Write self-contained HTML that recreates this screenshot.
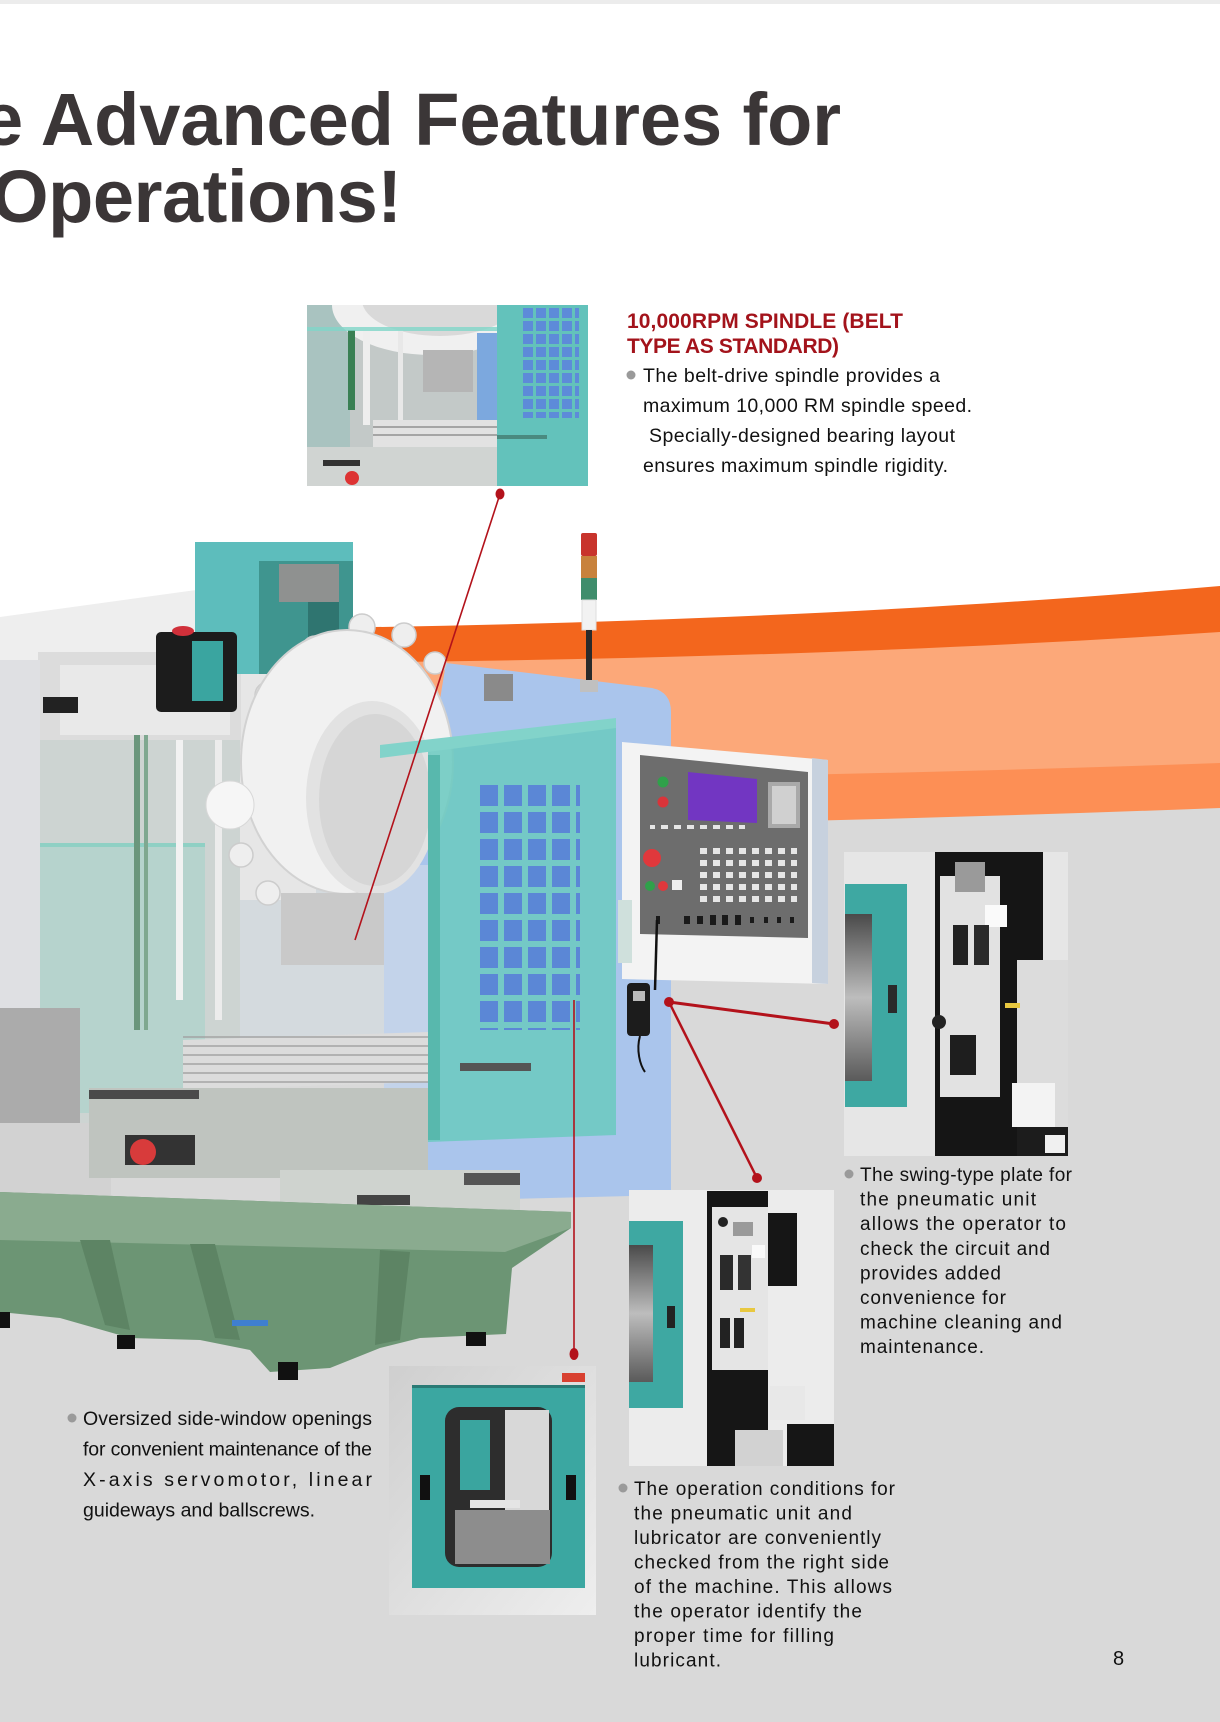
<!DOCTYPE html>
<html><head><meta charset="utf-8"><style>
html,body{margin:0;padding:0;background:#fff;}
svg{display:block;}
text{font-family:"Liberation Sans",Arial,sans-serif;}
</style></head><body>
<svg width="1220" height="1722" viewBox="0 0 1220 1722" xmlns="http://www.w3.org/2000/svg">
<defs>
 <pattern id="dgrid" x="480" y="785" width="24" height="27" patternUnits="userSpaceOnUse"><rect width="18" height="21" fill="#5b87d6"/></pattern>
 <pattern id="sgrid" x="523" y="308" width="13" height="13" patternUnits="userSpaceOnUse"><rect width="10" height="10" fill="#5d8bd9"/></pattern>
 <pattern id="keys" x="700" y="848" width="13" height="12" patternUnits="userSpaceOnUse"><rect width="7" height="6" fill="#e6e6e6"/></pattern>
 <pattern id="tslot" x="183" y="1036" width="10" height="9" patternUnits="userSpaceOnUse"><rect width="10" height="2" fill="#a0a0a0"/></pattern>
 <linearGradient id="win" x1="0" y1="0" x2="0" y2="1"><stop offset="0" stop-color="#4a4a4a"/><stop offset="0.5" stop-color="#bdbdbd"/><stop offset="1" stop-color="#5a5a5a"/></linearGradient>
 <linearGradient id="pc" x1="0" y1="0" x2="1" y2="1"><stop offset="0" stop-color="#cfcfcf"/><stop offset="1" stop-color="#eeeeee"/></linearGradient>
 <clipPath id="c1"><rect x="307" y="305" width="281" height="181"/></clipPath>
 <clipPath id="cA"><rect x="844" y="852" width="224" height="304"/></clipPath>
 <clipPath id="cB"><rect x="629" y="1190" width="205" height="276"/></clipPath>
 <clipPath id="cC"><rect x="389" y="1366" width="207" height="249"/></clipPath>
</defs>

<!-- background -->
<rect width="1220" height="1722" fill="#fff"/>
<rect width="1220" height="4" fill="#ececec"/>
<path d="M0,630 C400,630 800,622 1220,586 L1220,1722 L0,1722Z" fill="#f3661d"/>
<path d="M0,664 C400,664 800,660 1220,632 L1220,1722 L0,1722Z" fill="#fca879"/>
<path d="M0,785 C400,782 800,778 1220,763 L1220,1722 L0,1722Z" fill="#fd8f55"/>
<path d="M0,832 C400,830 800,824 1220,808 L1220,1722 L0,1722Z" fill="#d9d9d9"/>

<!-- title -->
<text x="-18" y="145" font-size="74" font-weight="bold" fill="#3b3637" textLength="859">e Advanced Features for</text>
<text x="-9" y="222" font-size="74" font-weight="bold" fill="#3b3637" textLength="411">Operations!</text>

<!-- ===== MACHINE ===== -->
<rect x="240" y="860" width="200" height="190" fill="#d4dade"/>
<path d="M446,663 L652,688 Q671,692 671,712 L671,1195 L470,1200 L384,1212 L384,865 L430,760 Z" fill="#aac5ec"/>
<rect x="384" y="865" width="44" height="258" fill="#c3d3ea"/>
<rect x="484" y="674" width="29" height="27" fill="#8a8a8a"/>

<!-- column -->
<polygon points="0,617 196,590 245,598 245,660 0,668" fill="#eeeeee"/>
<rect x="236" y="600" width="80" height="300" fill="#e6e6e6"/>
<rect x="38" y="652" width="203" height="98" fill="#dcdcdc"/>
<rect x="60" y="665" width="170" height="70" fill="#e9e9e9"/>
<rect x="0" y="660" width="40" height="465" fill="#dfe0e3"/>
<rect x="40" y="740" width="200" height="385" fill="#cdd4d2"/>
<rect x="40" y="843" width="165" height="270" fill="#9fd2c8" opacity="0.5"/>
<rect x="40" y="843" width="165" height="4" fill="#8fd0c4"/>
<rect x="134" y="735" width="6" height="295" fill="#6a967c"/>
<rect x="144" y="735" width="4" height="295" fill="#7fa890"/>
<rect x="176" y="740" width="7" height="260" fill="#f2f2f2"/>
<rect x="215" y="740" width="7" height="280" fill="#ececec"/>
<rect x="0" y="1008" width="80" height="115" fill="#ababab"/>
<rect x="0" y="1123" width="111" height="72" fill="#d2d2d2"/>
<rect x="43" y="697" width="35" height="16" fill="#222"/>

<!-- motor block -->
<rect x="195" y="542" width="158" height="132" fill="#5dbdbc"/>
<rect x="259" y="561" width="94" height="113" fill="#3f958f"/>
<rect x="279" y="564" width="60" height="38" fill="#8f9190"/>
<rect x="308" y="602" width="31" height="72" fill="#2f7570"/>
<rect x="156" y="632" width="81" height="80" rx="5" fill="#1c1c1c"/>
<rect x="192" y="641" width="31" height="60" fill="#3aa5a0"/>
<ellipse cx="183" cy="631" rx="11" ry="5" fill="#d0303a"/>

<!-- spindle head -->
<g fill="#eeeeee" stroke="#cccccc" stroke-width="1.5">
 <circle cx="362" cy="627" r="13"/><circle cx="404" cy="635" r="12"/><circle cx="315" cy="649" r="13"/>
 <circle cx="268" cy="695" r="13"/><circle cx="435" cy="663" r="11"/><circle cx="241" cy="855" r="12"/>
 <circle cx="268" cy="893" r="12"/>
</g>
<ellipse cx="347" cy="762" rx="106" ry="132" fill="#f1f1f1" stroke="#d2d2d2" stroke-width="2"/>
<ellipse cx="372" cy="798" rx="66" ry="97" fill="#e2e2e2"/>
<ellipse cx="375" cy="800" rx="56" ry="86" fill="#d6d6d6"/>
<ellipse cx="230" cy="805" rx="24" ry="24" fill="#f6f6f6" stroke="#d8d8d8"/>
<rect x="281" y="893" width="103" height="72" fill="#c9c9c9"/>

<!-- teal door -->
<polygon points="428,748 616,722 616,1135 428,1142" fill="#6cc9c0" opacity="0.88"/>
<polygon points="380,745 616,718 616,728 380,758" fill="#82d3ca"/>
<rect x="428" y="755" width="12" height="385" fill="#58b8ad"/>
<rect x="480" y="785" width="100" height="245" fill="url(#dgrid)"/>
<rect x="460" y="1063" width="71" height="8" fill="#555"/>

<!-- table / saddle -->
<polygon points="183,1040 428,1032 428,1082 183,1090" fill="#dcdcdc"/>
<rect x="183" y="1036" width="245" height="50" fill="url(#tslot)" opacity="0.7"/>
<rect x="89" y="1088" width="339" height="90" fill="#bfc4bf"/>
<rect x="89" y="1090" width="110" height="9" fill="#4a4a4a"/>
<rect x="125" y="1135" width="70" height="30" fill="#333"/>
<circle cx="143" cy="1152" r="13" fill="#d83b3b"/>
<rect x="280" y="1170" width="240" height="45" fill="#cfd3cf"/>
<rect x="357" y="1195" width="53" height="10" fill="#444"/>
<rect x="464" y="1173" width="56" height="12" fill="#555"/>

<!-- base -->
<polygon points="0,1192 571,1212 571,1228 512,1268 506,1334 420,1338 380,1348 330,1368 270,1372 250,1350 200,1340 130,1338 60,1318 0,1312" fill="#6c9574"/>
<polygon points="0,1192 571,1212 571,1228 505,1252 0,1240" fill="#8aab8f"/>
<polygon points="80,1240 110,1240 130,1330 105,1325" fill="#5d8464"/>
<polygon points="190,1244 215,1244 240,1340 215,1338" fill="#5d8464"/>
<polygon points="380,1250 410,1252 400,1340 375,1345" fill="#5d8464"/>
<rect x="232" y="1320" width="36" height="6" fill="#3f7fd0"/>
<rect x="278" y="1362" width="20" height="18" fill="#111"/>
<rect x="117" y="1335" width="18" height="14" fill="#111"/>
<rect x="466" y="1332" width="20" height="14" fill="#111"/>
<rect x="0" y="1312" width="10" height="16" fill="#111"/>

<!-- control panel -->
<polygon points="622,742 828,760 828,984 622,979" fill="#f3f3f3"/>
<polygon points="812,758 828,760 828,984 812,983" fill="#c7d1de"/>
<polygon points="640,755 808,772 808,938 640,934" fill="#6d6d6d"/>
<polygon points="688,772 757,779 757,823 688,820" fill="#7236c2"/>
<rect x="768" y="782" width="32" height="46" fill="#a9a9a9"/>
<rect x="772" y="786" width="24" height="38" fill="#d0d0d0"/>
<circle cx="663" cy="782" r="5.5" fill="#2fa14a"/>
<circle cx="663" cy="802" r="5.5" fill="#d9343a"/>
<circle cx="652" cy="858" r="9" fill="#e0383c"/>
<circle cx="650" cy="886" r="5" fill="#2fa14a"/>
<circle cx="663" cy="886" r="5" fill="#e0383c"/>
<rect x="672" y="880" width="10" height="10" fill="#eee"/>
<rect x="650" y="825" width="95" height="4" fill="url(#keys)"/>
<rect x="700" y="848" width="97" height="58" fill="url(#keys)"/>
<g fill="#1a1a1a">
 <rect x="656" y="916" width="4" height="8"/><rect x="684" y="916" width="6" height="8"/><rect x="697" y="916" width="6" height="8"/>
 <rect x="710" y="915" width="6" height="10"/><rect x="722" y="915" width="6" height="10"/><rect x="735" y="915" width="6" height="10"/>
 <rect x="750" y="917" width="4" height="6"/><rect x="764" y="917" width="4" height="6"/><rect x="777" y="917" width="4" height="6"/><rect x="790" y="917" width="4" height="6"/>
</g>
<rect x="618" y="900" width="14" height="63" fill="#cfe0dc"/>

<!-- pendant -->
<path d="M657,920 L655,990" stroke="#111" stroke-width="2.5"/>
<rect x="627" y="983" width="23" height="53" rx="4" fill="#1c1c1c"/>
<rect x="633" y="991" width="12" height="10" fill="#bbbbbb"/>
<path d="M640,1036 C636,1050 640,1065 645,1072" stroke="#111" stroke-width="2" fill="none"/>

<!-- signal tower -->
<rect x="581" y="533" width="16" height="23" rx="2" fill="#c8342c"/>
<rect x="581" y="556" width="16" height="22" fill="#c8823c"/>
<rect x="581" y="578" width="16" height="22" fill="#3f8d6c"/>
<rect x="582" y="600" width="14" height="30" fill="#f2f2f2" stroke="#ddd"/>
<rect x="586" y="630" width="6" height="52" fill="#2a2a2a"/>
<rect x="580" y="680" width="18" height="12" fill="#c0c0c0"/>

<!-- ===== spindle photo ===== -->
<g clip-path="url(#c1)">
 <rect x="307" y="305" width="281" height="181" fill="#c3c9c8"/>
 <rect x="307" y="305" width="43" height="181" fill="#a9c3c0"/>
 <ellipse cx="432" cy="305" rx="100" ry="50" fill="#f0f0f0"/>
 <ellipse cx="440" cy="300" rx="78" ry="36" fill="#d9d9d9"/>
 <rect x="348" y="330" width="7" height="80" fill="#3a8054"/>
 <rect x="363" y="330" width="7" height="95" fill="#eeeeee"/>
 <rect x="398" y="330" width="5" height="100" fill="#e8e8e8"/>
 <rect x="423" y="350" width="50" height="42" fill="#b5b5b5"/>
 <rect x="477" y="333" width="23" height="87" fill="#7ca8de"/>
 <rect x="307" y="327" width="200" height="4" fill="#7fd6c8" opacity="0.8"/>
 <rect x="497" y="305" width="91" height="181" fill="#63c2bb"/>
 <rect x="523" y="308" width="56" height="110" fill="url(#sgrid)"/>
 <rect x="373" y="420" width="124" height="27" fill="#e2e2e2"/>
 <rect x="373" y="426" width="124" height="2" fill="#a5a5a5"/>
 <rect x="373" y="434" width="124" height="2" fill="#a5a5a5"/>
 <rect x="307" y="447" width="190" height="39" fill="#d0d4d2"/>
 <rect x="323" y="460" width="37" height="6" fill="#333"/>
 <circle cx="352" cy="478" r="7" fill="#d33"/>
 <rect x="497" y="435" width="50" height="4" fill="#4a8a80"/>
</g>

<!-- ===== photo A ===== -->
<g clip-path="url(#cA)">
 <rect x="844" y="852" width="224" height="304" fill="#e6e6e6"/>
 <rect x="845" y="884" width="62" height="223" fill="#3ea8a2"/>
 <rect x="845" y="914" width="27" height="167" fill="url(#win)"/>
 <rect x="888" y="985" width="9" height="28" fill="#2a2a2a"/>
 <rect x="935" y="852" width="82" height="304" fill="#151515"/>
 <rect x="1000" y="852" width="43" height="108" fill="#151515"/>
 <rect x="1017" y="960" width="51" height="167" fill="#dcdcdc"/>
 <rect x="1017" y="1127" width="51" height="29" fill="#1c1c1c"/>
 <rect x="940" y="876" width="60" height="221" fill="#e2e2e2"/>
 <rect x="955" y="862" width="30" height="30" fill="#9a9a9a"/>
 <rect x="985" y="905" width="22" height="22" fill="#fafafa"/>
 <rect x="953" y="925" width="15" height="40" fill="#222"/>
 <rect x="974" y="925" width="15" height="40" fill="#2a2a2a"/>
 <rect x="1005" y="1003" width="15" height="5" fill="#e8c840"/>
 <circle cx="939" cy="1022" r="7" fill="#222"/>
 <rect x="950" y="1035" width="26" height="40" fill="#1e1e1e"/>
 <rect x="1012" y="1083" width="43" height="44" fill="#f3f3f3"/>
 <rect x="1045" y="1135" width="20" height="18" fill="#f0f0f0"/>
</g>

<!-- ===== photo B ===== -->
<g clip-path="url(#cB)">
 <rect x="629" y="1190" width="205" height="276" fill="#ececec"/>
 <rect x="628" y="1221" width="55" height="187" fill="#3ea8a2"/>
 <rect x="628" y="1245" width="25" height="137" fill="url(#win)"/>
 <rect x="667" y="1306" width="8" height="22" fill="#222"/>
 <rect x="707" y="1191" width="61" height="275" fill="#161616"/>
 <rect x="712" y="1207" width="56" height="163" fill="#e5e5e5"/>
 <rect x="768" y="1213" width="29" height="73" fill="#161616"/>
 <circle cx="723" cy="1222" r="5" fill="#222"/>
 <rect x="733" y="1222" width="20" height="14" fill="#9a9a9a"/>
 <rect x="720" y="1255" width="13" height="35" fill="#2a2a2a"/>
 <rect x="738" y="1255" width="13" height="35" fill="#333"/>
 <rect x="752" y="1245" width="13" height="13" fill="#fafafa"/>
 <rect x="720" y="1318" width="10" height="30" fill="#222"/>
 <rect x="734" y="1318" width="10" height="30" fill="#222"/>
 <rect x="740" y="1308" width="15" height="4" fill="#e8c840"/>
 <rect x="770" y="1386" width="35" height="34" fill="#e8e8e8"/>
 <rect x="735" y="1430" width="48" height="36" fill="#d2d2d2"/>
 <rect x="787" y="1424" width="47" height="42" fill="#161616"/>
</g>

<!-- ===== photo C ===== -->
<g clip-path="url(#cC)">
 <rect x="389" y="1366" width="207" height="249" fill="url(#pc)"/>
 <rect x="412" y="1385" width="173" height="203" fill="#3ba7a1"/>
 <rect x="412" y="1385" width="173" height="3" fill="#2a7a75"/>
 <rect x="445" y="1407" width="107" height="160" rx="14" fill="#2d2d2d"/>
 <rect x="505" y="1410" width="44" height="100" fill="#d8d8d8"/>
 <rect x="460" y="1420" width="30" height="70" fill="#3aa59f"/>
 <rect x="455" y="1510" width="95" height="54" fill="#8d8d8d"/>
 <rect x="470" y="1500" width="50" height="8" fill="#e5e5e5"/>
 <rect x="420" y="1475" width="10" height="25" fill="#111"/>
 <rect x="566" y="1475" width="10" height="25" fill="#111"/>
 <rect x="562" y="1373" width="23" height="9" fill="#d84030"/>
</g>

<!-- ===== connectors ===== -->
<g stroke="#b3121b" fill="none">
 <line x1="500" y1="494" x2="355" y2="940" stroke-width="1.6"/>
 <line x1="669" y1="1002" x2="834" y2="1024" stroke-width="3"/>
 <line x1="669" y1="1002" x2="757" y2="1178" stroke-width="2.5"/>
 <line x1="574" y1="1000" x2="574" y2="1353" stroke-width="1.6"/>
</g>
<g fill="#b3121b">
 <ellipse cx="500" cy="494" rx="4.5" ry="5.5"/>
 <circle cx="669" cy="1002" r="5"/>
 <circle cx="834" cy="1024" r="5"/>
 <circle cx="757" cy="1178" r="5"/>
 <ellipse cx="574" cy="1354" rx="4.5" ry="6"/>
</g>

<!-- ===== text: spindle ===== -->
<text x="627" y="328" font-size="21" font-weight="bold" fill="#a3131b" textLength="276">10,000RPM SPINDLE (BELT</text>
<text x="627" y="353" font-size="21" font-weight="bold" fill="#a3131b" textLength="212">TYPE AS STANDARD)</text>
<circle cx="631" cy="375" r="4.5" fill="#9a9a9a"/>
<g font-size="19.5" fill="#111">
 <text x="643" y="382" textLength="297">The belt-drive spindle provides a</text>
 <text x="643" y="412" textLength="329">maximum 10,000 RM spindle speed.</text>
 <text x="649" y="442" textLength="306">Specially-designed bearing layout</text>
 <text x="643" y="472" textLength="305">ensures maximum spindle rigidity.</text>
</g>

<!-- text A -->
<circle cx="849" cy="1174" r="4.5" fill="#9a9a9a"/>
<g font-size="19" fill="#111">
 <text x="860" y="1181" textLength="212">The swing-type plate for</text>
 <text x="860" y="1205.6" textLength="176">the pneumatic unit</text>
 <text x="860" y="1230.2" textLength="206">allows the operator to</text>
 <text x="860" y="1254.8" textLength="190">check the circuit and</text>
 <text x="860" y="1279.4" textLength="141">provides added</text>
 <text x="860" y="1304" textLength="146">convenience for</text>
 <text x="860" y="1328.6" textLength="202">machine cleaning and</text>
 <text x="860" y="1353.2" textLength="124">maintenance.</text>
</g>

<!-- text B -->
<circle cx="623" cy="1488" r="4.5" fill="#9a9a9a"/>
<g font-size="19" fill="#111">
 <text x="634" y="1495" textLength="261">The operation conditions for</text>
 <text x="634" y="1519.5" textLength="218">the pneumatic unit and</text>
 <text x="634" y="1544" textLength="247">lubricator are conveniently</text>
 <text x="634" y="1568.5" textLength="255">checked from the right side</text>
 <text x="634" y="1593" textLength="258">of the machine.  This allows</text>
 <text x="634" y="1617.5" textLength="228">the operator identify the</text>
 <text x="634" y="1642" textLength="200">proper time for filling</text>
 <text x="634" y="1666.5" textLength="87">lubricant.</text>
</g>

<!-- text C -->
<circle cx="72" cy="1418" r="4.5" fill="#9a9a9a"/>
<g font-size="19.5" fill="#111">
 <text x="83" y="1425" textLength="289">Oversized side-window openings</text>
 <text x="83" y="1455.5" textLength="289">for convenient maintenance of the</text>
 <text x="83" y="1486" textLength="289">X-axis servomotor, linear</text>
 <text x="83" y="1516.5" textLength="232">guideways and ballscrews.</text>
</g>

<text x="1113" y="1665" font-size="20" fill="#111">8</text>
</svg>
</body></html>
